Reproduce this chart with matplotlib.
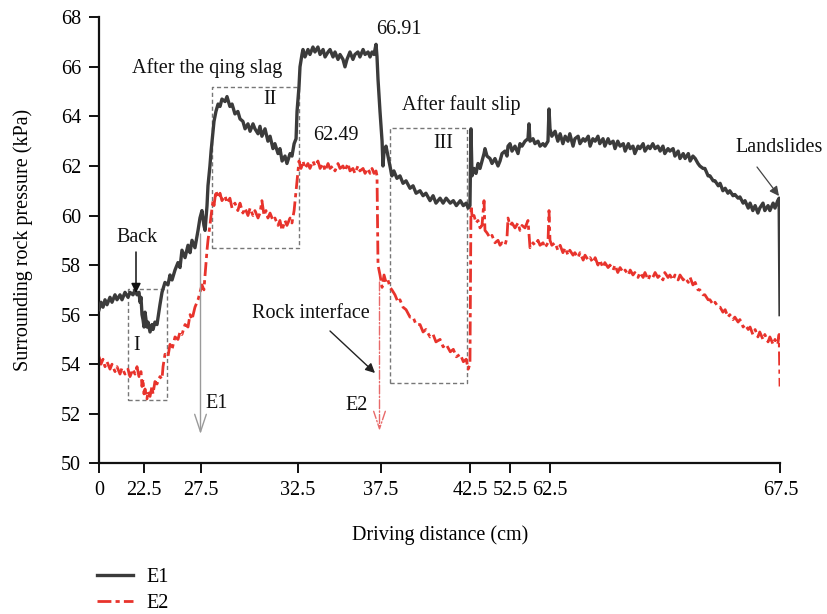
import numpy as np
import matplotlib
matplotlib.use("Agg")
import matplotlib.pyplot as plt

# ---------------- data ----------------
x_ticks = [0, 22.5, 27.5, 32.5, 37.5, 42.5, 52.5, 62.5, 67.5]
x_tick_labels = ["0", "22.5", "27.5", "32.5", "37.5", "42.5", "52.5", "62.5", "67.5"]
y_ticks = [50, 52, 54, 56, 58, 60, 62, 64, 66, 68]

e1_x = [0, 1.0, 2.0, 3.0, 4.0, 5.5, 6.5, 8.0, 9.0, 10.5, 11.5, 13.0, 14.5, 15.5, 17.0, 18.0, 19.0, 20.0, 20.5, 21.0, 21.5, 22.0, 22.5,
        22.59, 22.76, 22.85, 23.03, 23.2, 23.29, 23.46, 23.64, 23.9, 24.08, 24.34, 24.6, 24.78, 24.96, 25.22, 25.48, 25.66, 25.83, 26.1, 26.36, 26.54, 26.71, 26.97, 27.24, 27.41,
        27.55, 27.65, 27.71, 27.81, 27.86, 27.96, 28.02, 28.12, 28.17, 28.27, 28.38, 28.48, 28.58, 28.74, 28.84, 28.99, 29.10, 29.25, 29.40, 29.51, 29.66, 29.77, 29.92, 30.03, 30.18, 30.28, 30.44, 30.54, 30.64, 30.80, 30.95, 31.06, 31.21, 31.31, 31.47, 31.57, 31.68, 31.83, 31.93, 32.09, 32.19, 32.30, 32.40, 32.45,
        32.56, 32.62, 32.74, 32.80, 32.92, 33.10, 33.22, 33.40, 33.52, 33.70, 33.83, 34.01, 34.13, 34.31, 34.43, 34.61, 34.73, 34.91, 35.03, 35.21, 35.33, 35.45, 35.63, 35.81, 35.93, 36.11, 36.23, 36.42, 36.54, 36.72, 36.84, 36.96, 37.08, 37.20, 37.26, 37.32, 37.44,
        37.56, 37.61, 37.67, 37.78, 37.89, 38.0, 38.11, 38.22, 38.39, 38.56, 38.73, 38.90, 39.12, 39.29, 39.46, 39.68, 39.85, 40.01, 40.24, 40.41, 40.57, 40.80, 40.97, 41.14, 41.37, 41.54, 41.71, 41.93, 42.10, 42.26, 42.37, 42.47,
        42.62, 42.88, 43.38, 43.88, 44.38, 44.88, 45.38, 45.88, 46.12, 46.62, 47.38, 47.88, 48.62, 49.38, 49.88, 50.38, 51.12, 51.62, 51.88, 52.38,
        52.88, 53.64, 54.4, 54.9, 55.41, 56.17, 56.93, 57.18, 57.44, 58.2, 58.7, 59.46, 59.97, 60.73, 61.23, 61.99, 62.25, 62.5,
        62.54, 62.61, 62.67, 62.72, 62.78, 62.83, 62.89, 62.93, 63.0, 63.04, 63.11, 63.15, 63.22, 63.26, 63.33, 63.37, 63.43, 63.48, 63.54, 63.58, 63.65, 63.69, 63.76, 63.80, 63.87, 63.91, 63.97, 64.02, 64.09, 64.13, 64.20, 64.24, 64.30, 64.34, 64.41, 64.45, 64.52, 64.56, 64.63, 64.67, 64.73, 64.78, 64.84, 64.89, 64.95, 64.99, 65.06, 65.10, 65.17, 65.21, 65.28, 65.32, 65.39, 65.43, 65.50, 65.54, 65.60, 65.65, 65.71, 65.75, 65.82, 65.86, 65.93, 65.97, 66.04, 66.08, 66.15, 66.19, 66.25, 66.30, 66.36, 66.40, 66.47, 66.51, 66.58, 66.62, 66.69, 66.73, 66.80, 66.84, 66.90, 66.95, 67.01, 67.05, 67.12, 67.16, 67.23, 67.27, 67.34, 67.38, 67.44, 67.47, 67.49]
e1_y = [56.2, 56.5, 56.3, 56.6, 56.4, 56.7, 56.5, 56.8, 56.6, 56.8, 56.6, 56.9, 56.7, 56.9, 56.8, 57.0, 56.8, 56.9, 56.5, 56.7, 56.0, 55.8, 55.5,
        56.1, 55.5, 55.7, 55.3, 55.6, 55.4, 55.7, 55.6, 56.4, 56.9, 57.3, 57.2, 57.6, 57.4, 57.8, 58.1, 57.9, 58.6, 58.3, 58.8, 58.5, 59.0, 58.7, 59.4, 59.9,
        60.2, 59.6, 59.4, 60.4, 61.2, 62.0, 62.6, 63.4, 63.8, 64.2, 64.5, 64.4, 64.7, 64.6, 64.8, 64.4, 64.5, 64.1, 64.2, 63.9, 63.8, 63.5, 63.7, 63.4, 63.7, 63.5, 63.3, 63.6, 63.2, 63.5, 63.0, 63.2, 62.7, 62.9, 62.5, 62.7, 62.2, 62.4, 62.1, 62.5, 62.4, 62.9, 63.1, 64.2,
        65.2, 66.0, 66.5, 66.7, 66.4, 66.7, 66.5, 66.8, 66.6, 66.8, 66.5, 66.7, 66.4, 66.6, 66.7, 66.4, 66.6, 66.3, 66.5, 66.3, 66.0, 66.3, 66.6, 66.3, 66.5, 66.6, 66.4, 66.7, 66.5, 66.6, 66.4, 66.6, 66.5, 66.91, 66.4, 65.5, 64.2,
        63.0, 62.0, 62.6, 62.8, 62.4, 62.0, 61.6, 61.8, 61.5, 61.6, 61.3, 61.4, 61.1, 61.2, 60.9, 61.0, 60.8, 60.9, 60.6, 60.8, 60.5, 60.7, 60.5, 60.7, 60.5, 60.6, 60.4, 60.6, 60.4, 60.5, 60.3, 60.4,
        63.5, 61.6, 61.9, 61.7, 62.1, 61.9, 62.2, 62.5, 62.7, 62.4, 62.3, 62.1, 62.3, 62.0, 62.2, 62.5, 62.6, 62.4, 62.8, 62.9,
        62.6, 62.8, 62.5, 62.9, 62.8, 63.0, 63.1, 63.7, 63.0, 63.1, 62.9, 63.0, 62.8, 62.9, 62.8, 63.0, 64.3, 63.5,
        63.2, 63.4, 63.0, 63.3, 62.9, 63.2, 63.0, 63.3, 62.8, 63.1, 63.2, 62.9, 63.1, 63.0, 63.2, 62.8, 63.1, 63.0, 63.2, 62.9, 63.1, 62.8, 63.1, 62.9, 63.0, 62.7, 63.0, 62.8, 62.9, 62.6, 62.9, 62.7, 62.8, 62.5, 62.8, 62.7, 62.9, 62.6, 62.8, 62.7, 62.9, 62.7, 62.8, 62.6, 62.8, 62.5, 62.7, 62.6, 62.7, 62.4, 62.6, 62.3, 62.5, 62.3, 62.5, 62.2, 62.4, 62.3, 62.1, 62.0, 61.9, 61.9, 61.6, 61.6, 61.4, 61.4, 61.2, 61.3, 61.0, 61.1, 60.9, 61.0, 60.8, 60.85, 60.7, 60.75, 60.5, 60.6, 60.3, 60.5, 60.2, 60.4, 60.1, 60.3, 60.5, 60.2, 60.4, 60.2, 60.5, 60.3, 60.6, 60.7, 56.0]

e2_x = [0, 1.0, 2.0, 3.0, 4.0, 5.5, 6.5, 8.0, 9.0, 10.5, 11.5, 13.0, 14.5, 15.5, 17.0, 18.0, 19.0, 20.0, 21.0, 21.5, 22.0, 22.5,
        22.59, 22.76, 22.85, 23.03, 23.2, 23.29, 23.46, 23.64, 23.9, 24.08, 24.17, 24.34, 24.6, 24.78, 24.96, 25.22, 25.48, 25.66, 25.83, 26.1, 26.36, 26.54, 26.71, 26.97, 27.24, 27.41,
        27.55, 27.65, 27.71, 27.81, 27.86, 27.96, 28.02, 28.12, 28.17, 28.27, 28.38, 28.48, 28.58, 28.74, 28.84, 28.99, 29.10, 29.25, 29.40, 29.51, 29.66, 29.77, 29.92, 30.03, 30.18, 30.28, 30.44, 30.54, 30.64, 30.75, 30.85, 30.95, 31.06, 31.21, 31.31, 31.47, 31.57, 31.68, 31.83, 31.93, 32.09, 32.19, 32.30, 32.40, 32.45,
        32.56, 32.68, 32.80, 32.92, 33.10, 33.22, 33.40, 33.52, 33.70, 33.83, 34.01, 34.13, 34.31, 34.43, 34.61, 34.73, 34.91, 35.03, 35.21, 35.33, 35.51, 35.63, 35.81, 35.93, 36.11, 36.23, 36.42, 36.54, 36.72, 36.84, 36.96, 37.08, 37.20, 37.26, 37.32,
        37.44, 37.56, 37.67, 37.78, 37.89, 38.0, 38.11, 38.28, 38.45, 38.56, 38.73, 38.90, 39.12, 39.29, 39.46, 39.68, 39.85, 40.01, 40.24, 40.41, 40.57, 40.80, 40.97, 41.14, 41.37, 41.54, 41.71, 41.93, 42.10, 42.26, 42.37, 42.47,
        42.62, 42.88, 43.38, 43.88, 44.38, 44.88, 45.38, 45.88, 46.12, 46.62, 47.38, 47.88, 48.62, 49.38, 49.88, 50.38, 51.12, 51.62, 51.88, 52.38,
        52.88, 53.64, 54.4, 54.9, 55.41, 56.17, 56.93, 57.44, 58.2, 58.7, 59.46, 59.97, 60.73, 61.23, 61.99, 62.25, 62.5,
        62.54, 62.61, 62.67, 62.72, 62.78, 62.83, 62.89, 62.93, 63.0, 63.04, 63.11, 63.15, 63.22, 63.26, 63.33, 63.37, 63.43, 63.48, 63.54, 63.58, 63.65, 63.69, 63.76, 63.80, 63.87, 63.91, 63.97, 64.02, 64.09, 64.13, 64.20, 64.24, 64.30, 64.34, 64.41, 64.45, 64.52, 64.56, 64.63, 64.67, 64.73, 64.78, 64.84, 64.89, 64.95, 64.99, 65.06, 65.10, 65.17, 65.21, 65.28, 65.32, 65.39, 65.43, 65.50, 65.54, 65.60, 65.65, 65.71, 65.75, 65.82, 65.86, 65.93, 65.97, 66.04, 66.08, 66.15, 66.19, 66.25, 66.30, 66.36, 66.40, 66.47, 66.51, 66.58, 66.62, 66.69, 66.73, 66.80, 66.84, 66.90, 66.95, 67.01, 67.05, 67.12, 67.16, 67.23, 67.27, 67.34, 67.38, 67.44, 67.47, 67.49]
e2_y = [54.3, 54.0, 54.2, 53.9, 54.1, 53.8, 54.0, 53.7, 53.9, 53.6, 53.85, 53.6, 53.8, 53.5, 53.8, 53.6, 53.9, 53.5, 53.7, 53.1, 53.4, 52.8,
        53.0, 52.6, 52.9, 52.7, 53.1, 52.8, 53.3, 53.2, 53.5, 53.4, 53.9, 54.4, 54.3, 54.8, 54.6, 55.1, 55.0, 55.3, 55.2, 55.6, 55.5, 56.0, 55.8, 56.3, 56.6, 56.9,
        57.2, 57.0, 57.6, 58.6, 59.0, 59.6, 60.0, 60.6, 60.4, 61.0, 60.7, 60.9, 60.6, 60.8, 60.5, 60.7, 60.3, 60.5, 60.2, 60.5, 60.1, 60.3, 60.0, 60.3, 60.0, 60.2, 59.9, 60.1, 60.6, 60.0, 60.2, 59.9, 60.1, 59.8, 59.9, 59.6, 59.8, 59.4, 59.8, 59.6, 59.9, 59.7, 60.2, 61.0, 61.4,
        62.2, 61.9, 62.2, 61.9, 62.1, 61.9, 62.2, 62.0, 62.2, 61.9, 62.1, 61.8, 62.1, 61.9, 62.0, 61.8, 62.1, 61.9, 62.0, 61.8, 62.1, 61.8, 61.9, 61.7, 62.0, 61.8, 61.9, 61.7, 61.9, 61.7, 61.9, 61.7, 61.8, 61.6, 58.0,
        57.6, 57.1, 57.6, 57.3, 57.4, 57.1, 57.0, 56.8, 56.5, 56.6, 56.3, 56.2, 55.9, 55.9, 55.6, 55.6, 55.3, 55.4, 55.1, 55.2, 54.9, 55.0, 54.7, 54.8, 54.5, 54.6, 54.3, 54.4, 54.1, 54.2, 53.8, 54.0,
        60.4, 60.0, 60.0, 59.7, 59.8, 59.5, 59.6, 60.6, 59.4, 59.3, 59.1, 59.2, 58.9, 59.0, 58.8, 58.9, 58.8, 59.1, 59.9, 59.6,
        59.7, 59.5, 59.7, 59.4, 59.6, 59.5, 59.8, 58.7, 58.9, 58.8, 59.0, 58.8, 58.9, 58.7, 58.9, 60.2, 59.0,
        58.8, 58.9, 58.6, 58.8, 58.5, 58.7, 58.4, 58.6, 58.4, 58.5, 58.3, 58.5, 58.2, 58.4, 58.2, 58.3, 58.1, 58.3, 58.0, 58.2, 57.9, 58.1, 57.9, 58.0, 57.8, 58.0, 57.7, 57.9, 57.7, 57.8, 57.6, 57.8, 57.6, 57.7, 57.5, 57.7, 57.5, 57.7, 57.4, 57.6, 57.5, 57.7, 57.5, 57.6, 57.4, 57.7, 57.5, 57.6, 57.4, 57.6, 57.4, 57.6, 57.4, 57.5, 57.3, 57.5, 57.2, 57.3, 57.0, 57.0, 56.8, 56.8, 56.6, 56.6, 56.4, 56.5, 56.3, 56.3, 56.1, 56.2, 55.9, 56.0, 55.8, 55.9, 55.7, 55.8, 55.5, 55.6, 55.4, 55.5, 55.2, 55.4, 55.1, 55.3, 55.0, 55.2, 54.9, 55.1, 54.8, 55.0, 54.8, 55.2, 53.1]

# ---------------- layout helpers ----------------
W, H = 827, 614
# on-screen spacing of the broken x axis (pixels from the y axis for each tick)
tick_pos = [0, 45, 102, 199, 282, 371.5, 411.5, 451, 681.5]

def fwd(x):
    return np.interp(x, x_ticks, tick_pos)

def inv(p):
    return np.interp(p, tick_pos, x_ticks)

def fp(px, py):
    return (px / W, 1 - py / H)

plt.rcParams["font.family"] = ["Liberation Serif", "DejaVu Serif"]
FS = 14.5

fig = plt.figure(figsize=(W / 100, H / 100), dpi=100)
ax = fig.add_axes([99 / W, 1 - 463.3 / H, (780.5 - 99) / W, (463.3 - 17.3) / H])
ax.set_xscale("function", functions=(fwd, inv))

E1_COL = "#3b3b3b"
E2_COL = "#e8332c"
ax.plot(e1_x, e1_y, color=E1_COL, lw=2.4, label="E1", zorder=3)
ax.plot(e2_x, e2_y, color=E2_COL, lw=2.0, ls=(0, (5, 1.5, 1.5, 1.5)), label="E2", zorder=2)

ax.set_xlim(0, 67.5)
ax.set_ylim(50, 68)
ax.set_xticks(x_ticks)
ax.set_xticklabels(x_tick_labels)
ax.set_yticks(y_ticks)
ax.minorticks_off()
for s in ["top", "right"]:
    ax.spines[s].set_visible(False)
for s in ["left", "bottom"]:
    ax.spines[s].set_linewidth(1.6)
    ax.spines[s].set_color("#111111")
ax.tick_params(axis="both", direction="out", length=7, width=1.4, labelsize=FS, pad=6, color="#111111")
ax.set_xlabel("Driving distance (cm)", fontsize=FS, labelpad=18)
ax.set_ylabel("Surrounding rock pressure (kPa)", fontsize=FS, labelpad=20)

# dashed region boxes (data coordinates)
boxes = [((14.35, 52.56), (24.49, 57.02)),
         ((28.05, 58.68), (32.58, 65.18)),
         ((38.0, 53.23), (42.29, 63.53))]
for (x0, y0), (x1, y1) in boxes:
    ax.plot([x0, x1, x1, x0, x0], [y0, y0, y1, y1, y0], color="#777777", lw=1.0,
            ls=(0, (3, 2)), zorder=1)

# texts
def txt(s, px, py, ha="center"):
    fig.text(*fp(px, py), s, fontsize=FS, ha=ha, va="center", color="#111111")

txt("Back", 137, 238)
txt("I", 137, 345)
txt("After the qing slag", 207.5, 68)
txt("II", 270, 100)
txt("66.91", 399, 29)
txt("62.49", 335.5, 135)
txt("After fault slip", 461, 105)
txt("III", 443, 143)
txt("Rock interface", 311, 314)
txt("E1", 205, 403, ha="left")
txt("E2", 357, 405)
txt("Landslides", 779, 148)

# arrows
def arrow(p0, p1, style, color, lw=1.0, ls="-", ms=14):
    ax.annotate("", xy=fp(*p1), xytext=fp(*p0), xycoords="figure fraction",
                textcoords="figure fraction",
                arrowprops=dict(arrowstyle=style, color=color, lw=lw, ls=ls,
                                mutation_scale=ms, shrinkA=0, shrinkB=0))

arrow((136, 252), (136, 293), "-|>", "#111111", lw=1.1)
arrow((330, 331), (375, 373), "-|>", "#222222", lw=1.0)
arrow((757, 167), (779, 196), "-|>", "#444444", lw=0.9)
arrow((200.5, 234), (200.5, 434), "->,head_length=0.9,head_width=0.3", "#9a9a9a", lw=1.0)
arrow((379.5, 282), (379.5, 431), "->,head_length=0.9,head_width=0.3", "#e86a6a", lw=1.0, ls="-.")

# legend below the chart
leg = fig.legend(loc="upper left", bbox_to_anchor=fp(97, 568), frameon=False, fontsize=FS,
                 handlelength=1.8, handletextpad=0.65, labelspacing=0.35, borderpad=0,
                 borderaxespad=0)

fig.savefig("out.png", dpi=100)
